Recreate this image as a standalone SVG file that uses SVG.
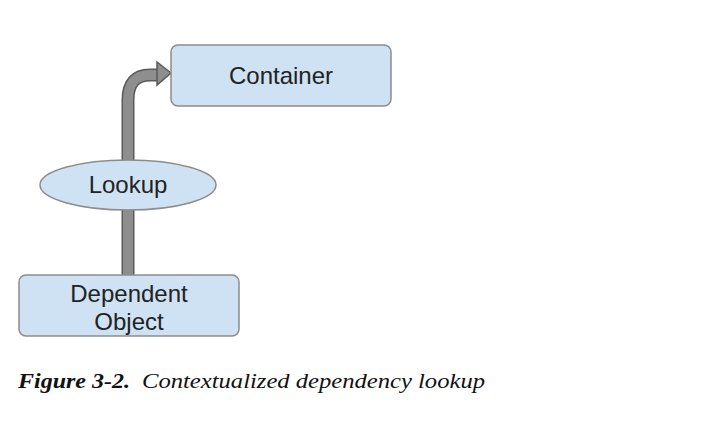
<svg xmlns="http://www.w3.org/2000/svg" width="715" height="429" viewBox="0 0 715 429">
<style>
.box{fill:#cfe2f3;stroke:#8c8c8c;stroke-width:1.5}
.lbl{font-family:"Liberation Sans",Arial,sans-serif;font-size:24px;fill:#222;text-anchor:middle}
.cap{font-family:"Liberation Serif","Times New Roman",serif;font-size:22px;font-style:italic;fill:#111}
</style>
<rect width="715" height="429" fill="#fff"/>
<g id="connectors">
<path d="M128,276 V100 Q128,75 150,75 H160" fill="none" stroke="#5a5a5a" stroke-width="13"/>
<path d="M128,276 V100 Q128,75 150,75 H160" fill="none" stroke="#8e8e8e" stroke-width="10"/>
<polygon points="157,62 171,73 157,85" fill="#8e8e8e" stroke="#5a5a5a" stroke-width="1.5"/>
</g>
<g id="container">
<rect class="box" x="171" y="45" width="220" height="61" rx="7"/>
<text class="lbl" x="281" y="84">Container</text>
</g>
<g id="lookup">
<ellipse class="box" cx="128" cy="185" rx="88" ry="25"/>
<text class="lbl" x="128" y="193">Lookup</text>
</g>
<g id="dependent">
<rect class="box" x="19" y="275" width="220" height="61" rx="7"/>
<text class="lbl" x="129" y="302">Dependent</text>
<text class="lbl" x="129" y="330">Object</text>
</g>
<text class="cap" x="18" y="388" font-weight="bold" textLength="112" lengthAdjust="spacingAndGlyphs">Figure 3-2.</text>
<text class="cap" x="142" y="388" textLength="343" lengthAdjust="spacingAndGlyphs">Contextualized dependency lookup</text>
</svg>
